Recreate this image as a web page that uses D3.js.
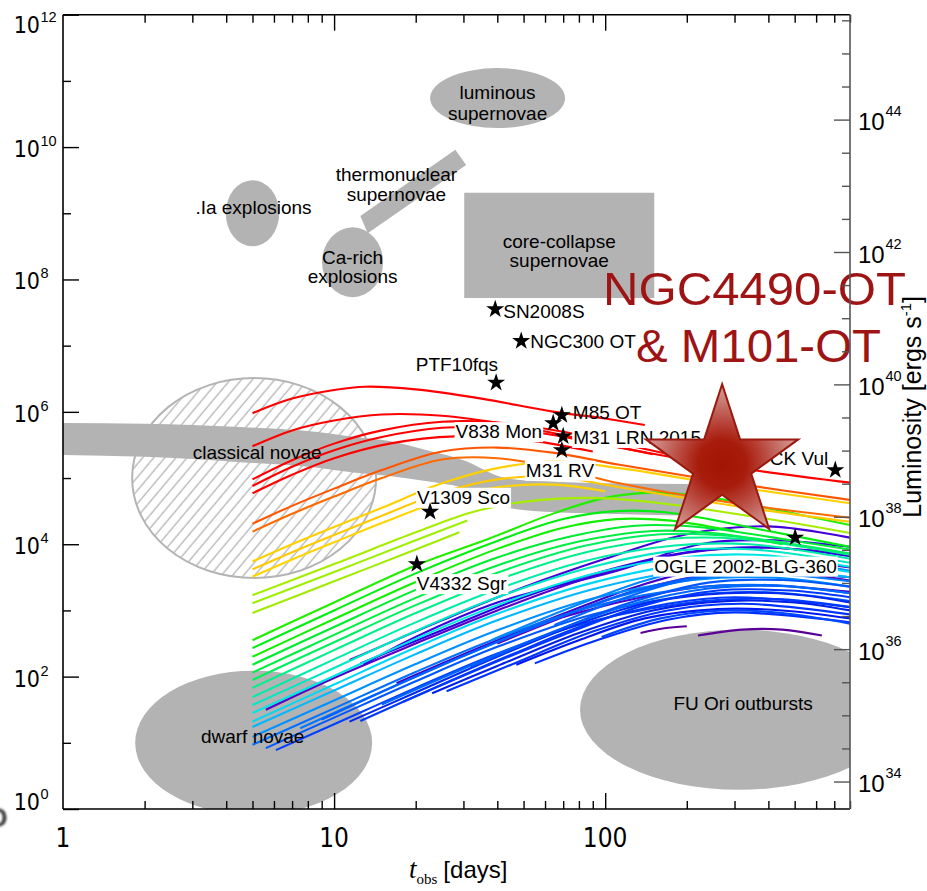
<!DOCTYPE html>
<html>
<head>
<meta charset="utf-8">
<script src="https://cdn.jsdelivr.net/npm/d3@7"></script>
<style>
  html, body { margin: 0; padding: 0; background: #fff; }
  svg { display: block; }
  text { font-family: "Liberation Sans", Arial, Helvetica, sans-serif; fill: #000; }
  .narrow { font-family: "Liberation Sans Narrow", "Arial Narrow", "DejaVu Sans Condensed", sans-serif; }
</style>
</head>
<body>
<svg id="chart" width="927" height="891"></svg>
<script>
// ---------------- data ----------------
// axis ticks
const xMajorTicks = [1, 10, 100];
const xMinorTicks = [2, 3, 4, 5, 6, 7, 8, 9, 20, 30, 40, 50, 60, 70, 80, 90, 200, 300, 400, 500, 600, 700, 800];
const leftMajorExp = [0, 2, 4, 6, 8, 10, 12];
const leftMinorExp = [1, 3, 5, 7, 9, 11];
const rightMajorExp = [34, 36, 38, 40, 42, 44];
const rightMinorExp = [34.5, 35, 35.5, 36.5, 37, 37.5, 38.5, 39, 39.5, 40.5, 41, 41.5, 42.5, 43, 43.5, 44.5, 45, 45.5];
const solarLuminosityErg = 3.846e33;

// elliptical source classes (centre in days / log L_sun, half-axes in dex)
const blobNames = [".Ia explosions", "luminous supernovae", "Ca-rich explosions", "dwarf novae", "FU Ori outbursts"];
const blobDays = [5.0, 40.1, 11.7, 5.05, 312];
const blobLogL = [9.0, 10.74, 8.26, 1.0, 1.5];
const blobHalfWidthDex = [0.0985, 0.249, 0.1125, 0.437, 0.587];
const blobHalfHeightDex = [0.5, 0.453, 0.529, 1.09, 1.21];

// core-collapse supernovae box
const coreCollapseDays = [30.2, 151.7];
const coreCollapseLogL = [7.72, 9.31];

// thermonuclear supernovae strip (corners)
const thermoDays = [12.5, 28.0, 30.7, 13.3];
const thermoLogL = [8.96, 9.96, 9.73, 8.70];

// classical novae: hatched ellipse and decline band
const novaEllipseDays = 5.07, novaEllipseLogL = 5.0, novaEllipseHalfWidthDex = 0.45, novaEllipseHalfHeightDex = 1.51;
const novaBandDays = [1, 2, 4.5, 8, 12, 16, 22, 30, 43, 60, 100, 202];
const novaBandTop = [5.83, 5.82, 5.77, 5.71, 5.62, 5.56, 5.42, 5.27, 5.00, 4.95, 4.92, 4.91];
const novaBandBottom = [5.35, 5.32, 5.24, 5.17, 5.08, 5.03, 4.95, 4.85, 4.56, 4.49, 4.46, 4.43];

// observed transients
const starNames = ["SN2008S", "NGC300 OT", "PTF10fqs", "M85 OT", "V838 Mon", "M31 LRN 2015", "M31 RV", "V1309 Sco", "V4332 Sgr", "OGLE 2002-BLG-360", "CK Vul"];
const starDays = [39.3, 49, 39.6, 69.2, 64.3, 70, 69.2, 22.6, 20.2, 502, 706];
const starLogL = [7.55, 7.07, 6.44, 5.95, 5.83, 5.63, 5.42, 4.49, 3.70, 4.10, 5.12];

// highlighted events
const highlightLines = ["NGC4490-OT", "& M101-OT"];
const highlightDays = 270, highlightLogL = 5.21;

// model tracks: [t_obs in days, log10 L/L_sun]
const redTracks = [
  [[5,5.98],[7,6.2],[10,6.33],[13,6.38],[20,6.34],[35,6.2],[65,6.0],[100,5.9],[140,5.8]],
  [[5,5.48],[7,5.72],[10,5.87],[15,5.96],[25,5.94],[45,5.8],[75,5.62],[113,5.46],[300,5.16],[800,4.93]],
  [[5,4.98],[7,5.27],[10,5.52],[15,5.72],[25,5.85],[40,5.84],[70,5.7],[120,5.5],[200,5.3]],
  [[5,4.88],[7,5.17],[10,5.42],[15,5.62],[25,5.76],[45,5.74],[80,5.58],[150,5.36]],
  [[5,4.77],[7,5.05],[10,5.3],[16,5.52],[28,5.63],[50,5.58],[90,5.4]]
];
const orangeTracks = [
  [[5,4.31],[7,4.58],[10,4.84],[15,5.12],[25,5.4],[40,5.46],[65,5.38],[113,5.2],[300,4.92],[800,4.67]],
  [[5,4.19],[7,4.46],[10,4.72],[15,5.0],[25,5.28],[40,5.3],[65,5.16],[113,4.92],[300,4.62],[800,4.40]]
];
const yellowTracks = [
  [[5,3.74],[7,4.0],[10,4.26],[15,4.55],[25,4.92],[40,5.15],[65,5.25],[113,5.15],[300,4.87],[800,4.62]],
  [[5,3.62],[7,3.88],[10,4.14],[15,4.43],[25,4.78],[40,4.98],[65,5.02],[113,4.86],[300,4.58],[800,4.34]],
  [[5,3.51],[7,3.77],[10,4.03],[15,4.32],[25,4.66],[40,4.86],[65,4.9],[100,4.8]]
];
const limeTracks = [
  [[5,3.23],[10,3.7],[20,4.18],[32,4.48],[50,4.64],[90,4.7],[160,4.62],[400,4.38],[800,4.17]],
  [[5,3.11],[10,3.58],[20,4.06],[31,4.36]],
  [[5,2.96],[10,3.44],[20,3.92],[29,4.18]]
];
const greenTracks = [
  [[5,2.55],[10,3.12],[20,3.68],[37,4.08],[65,4.47],[100,4.7],[150,4.78],[250,4.7],[450,4.5],[800,4.29]],
  [[5,2.43],[10,3.0],[20,3.56],[40,4.05],[70,4.38],[110,4.5],[170,4.48],[400,4.2],[800,3.96]],
  [[5,2.30],[10,2.87],[20,3.43],[40,3.93],[70,4.25],[110,4.38],[170,4.36],[300,4.2]],
  [[5,2.18],[10,2.75],[20,3.31],[40,3.8],[75,4.12],[130,4.28],[220,4.26],[500,4.05],[800,3.92]],
  [[5,2.06],[10,2.63],[20,3.19],[40,3.68],[80,4.04],[150,4.2],[260,4.16],[450,4.0]],
  [[5,1.95],[10,2.52],[20,3.08],[40,3.57],[85,3.98],[160,4.15],[300,4.12],[800,3.86]]
];
const tealTracks = [
  [[5,1.83],[10,2.4],[20,2.96],[40,3.46],[85,3.88],[170,4.08],[320,4.08],[800,3.84]],
  [[5,1.69],[10,2.26],[20,2.82],[40,3.32],[85,3.75],[180,3.98],[340,4.0],[800,3.78]],
  [[5,1.57],[10,2.13],[20,2.69],[40,3.2],[90,3.66],[180,3.9],[350,3.92],[800,3.72]],
  [[5,1.45],[10,2.01],[20,2.57],[40,3.08],[90,3.55],[190,3.8],[360,3.84],[800,3.66]],
  [[5,1.32],[10,1.88],[20,2.44],[40,2.95],[90,3.42],[200,3.7],[380,3.74],[800,3.58]],
  [[5,1.24],[10,1.79],[20,2.34],[40,2.85],[90,3.32],[200,3.6],[380,3.64],[800,3.5]]
];
const blueTracks = [
  [[5,1.09],[10,1.64],[20,2.19],[40,2.7],[90,3.18],[210,3.46],[400,3.5],[800,3.36]],
  [[5,0.97],[10,1.52],[20,2.07],[40,2.58],[90,3.06],[220,3.35],[420,3.38],[800,3.26]],
  [[5.6,0.92],[10,1.38],[20,1.93],[40,2.45],[90,2.94],[220,3.24],[420,3.27],[800,3.14]],
  [[6.1,0.89],[10,1.28],[20,1.83],[40,2.35],[90,2.84],[230,3.14],[430,3.17],[800,3.05]],
  [[7.5,1.22],[14,1.72],[28,2.26],[55,2.75],[110,3.2],[240,3.5],[450,3.54],[800,3.44]],
  [[9,1.35],[16,1.82],[32,2.36],[64,2.86],[130,3.3],[260,3.55],[480,3.57],[800,3.5]],
  [[11.4,1.32],[20,1.76],[40,2.3],[80,2.8],[150,3.13],[280,3.26],[500,3.24],[800,3.12]],
  [[12.5,1.33],[22,1.78],[45,2.33],[90,2.82],[170,3.1],[300,3.2],[800,3.05]],
  [[15,1.58],[30,2.12],[60,2.63],[120,3.07],[240,3.33],[440,3.37],[800,3.26]],
  [[23,1.75],[40,2.16],[80,2.66],[150,3.0],[280,3.14],[500,3.12],[800,3.0]],
  [[26,1.78],[45,2.18],[90,2.68],[170,3.0],[320,3.1],[800,2.94]],
  [[47,2.18],[80,2.55],[140,2.88],[260,3.02],[450,3.0],[800,2.88]],
  [[55,2.2],[95,2.56],[170,2.86],[300,2.97],[800,2.82]],
  [[97,2.6],[160,2.88],[270,3.0],[450,2.96],[800,2.8]],
  [[32,2.15],[60,2.62],[120,3.1],[240,3.42],[450,3.46],[800,3.36]],
  [[18,1.62],[35,2.13],[70,2.63],[140,3.08],[260,3.3],[480,3.3],[800,3.2]],
  [[38,2.55],[70,3.0],[140,3.45],[260,3.7],[480,3.72],[800,3.6]],
  [[65,2.78],[120,3.2],[220,3.5],[400,3.58],[800,3.5]]
];
const violetTracks = [
  [[11.4,2.25],[25,2.85],[50,3.35],[100,3.78],[200,4.15],[400,4.27],[800,4.1]],
  [[5.6,1.5],[10,1.98],[20,2.5],[40,3.0],[80,3.45],[170,3.82],[350,3.95],[800,3.85]],
  [[12.8,2.18],[20,2.6],[40,3.12],[113,3.61],[224,4.0],[420,4.06],[800,3.96]],
  [[40,2.5],[70,2.9],[130,3.3],[250,3.55],[450,3.58],[800,3.45]],
  [[70,2.9],[120,3.15],[220,3.35],[400,3.38],[800,3.28]],
  [[135,2.66],[165,2.73],[200,2.76]],
  [[220,2.62],[320,2.71],[450,2.71],[630,2.62]],
  [[17,1.9],[35,2.45],[70,2.95],[140,3.4],[280,3.7],[550,3.72],[800,3.65]],
  [[12.5,2.2],[25,2.7],[50,3.2],[100,3.6],[200,3.88],[400,3.95],[800,3.82]]
];

// line colours for each family
const redShades = ["#ff0000"];
const orangeShades = ["#ff5500", "#ff6a00"];
const yellowShades = ["#ffd000", "#ffc800", "#ffd400"];
const limeShades = ["#a6ee00", "#9cf000", "#a0ec00"];
const greenShades = ["#22ee00", "#00ee10", "#10f000", "#00ec30", "#00ee40", "#00f060"];
const tealShades = ["#00f08a", "#00eca8", "#00e8c4", "#00e6e6", "#00d8f4", "#00b8ff"];
const blueShades = ["#0090ff", "#0070ff", "#0058ff", "#0040ff", "#0078ff", "#0060ff", "#0028f0", "#0038ff", "#0068ff", "#0020e8", "#0034ff", "#0018f0", "#0030ff", "#0048ff", "#0058ff", "#0038ff", "#0088ff", "#0064ff"];
const violetShades = ["#4400d8", "#5500c4", "#3a00e0", "#5c00b0", "#4c00c8", "#5a0098", "#5a0098", "#4000c8", "#3000e0"];

// ---------------- chart ----------------
const plotLeft = 63, plotRight = 850, plotTop = 14.7, plotBottom = 809;

const x = d3.scaleLog().domain([1, 800]).range([plotLeft, plotRight]);
const y = d3.scaleLog().domain([1, 1e12]).range([plotBottom, plotTop]);
const yErg = d3.scaleLog().domain([solarLuminosityErg, 1e12 * solarLuminosityErg]).range([plotBottom, plotTop]);
const L = v => Math.pow(10, v);

const svg = d3.select("#chart");
const defs = svg.append("defs");

defs.append("clipPath").attr("id", "plotClip")
  .append("rect").attr("x", plotLeft).attr("y", plotTop).attr("width", plotRight - plotLeft).attr("height", plotBottom - plotTop);

const hatch = defs.append("pattern").attr("id", "hatch")
  .attr("patternUnits", "userSpaceOnUse").attr("width", 8.5).attr("height", 8.5)
  .attr("patternTransform", "rotate(40)");
hatch.append("line").attr("x1", 4).attr("y1", -1).attr("x2", 4).attr("y2", 10)
  .attr("stroke", "#b4b4b4").attr("stroke-width", 1.3);

const starCx = x(highlightDays), starCy = y(L(highlightLogL)), starR = 80;
// gradient lives in the star's own (translated) coordinate system
const grad = defs.append("radialGradient").attr("id", "starFill")
  .attr("gradientUnits", "userSpaceOnUse")
  .attr("cx", 0).attr("cy", 0).attr("r", starR);
grad.append("stop").attr("offset", "0").attr("stop-color", "#a21404");
grad.append("stop").attr("offset", "0.3").attr("stop-color", "#a81c0c");
grad.append("stop").attr("offset", "0.52").attr("stop-color", "#b7443a");
grad.append("stop").attr("offset", "0.78").attr("stop-color", "#c87a72");
grad.append("stop").attr("offset", "1").attr("stop-color", "#d9a29c");

defs.append("filter").attr("id", "soft").append("feGaussianBlur").attr("stdDeviation", 1.3);

const plot = svg.append("g").attr("clip-path", "url(#plotClip)");
const grey = "#b3b3b3";

// ellipse in log-log space
function logEllipse(tc, lc, hw, hh) {
  const cx = x(tc), cy = y(L(lc));
  return { cx, cy, rx: x(tc * L(hw)) - cx, ry: cy - y(L(lc + hh)) };
}

// hatched classical-novae ellipse
const ne = logEllipse(novaEllipseDays, novaEllipseLogL, novaEllipseHalfWidthDex, novaEllipseHalfHeightDex);
plot.append("ellipse").attr("cx", ne.cx).attr("cy", ne.cy).attr("rx", ne.rx).attr("ry", ne.ry)
  .attr("fill", "url(#hatch)").attr("stroke", "#b4b4b4").attr("stroke-width", 2);

// classical novae decline band
const band = novaBandDays.map((d, i) => [d, novaBandTop[i], novaBandBottom[i]]);
plot.append("path").datum(band)
  .attr("d", d3.area().x(d => x(d[0])).y0(d => y(L(d[2]))).y1(d => y(L(d[1]))).curve(d3.curveMonotoneX))
  .attr("fill", grey);

// grey ellipses
const blobs = blobNames.map((n, i) => Object.assign({ name: n }, logEllipse(blobDays[i], blobLogL[i], blobHalfWidthDex[i], blobHalfHeightDex[i])));
plot.selectAll("ellipse.blob").data(blobs).join("ellipse").attr("class", "blob")
  .attr("cx", d => d.cx).attr("cy", d => d.cy).attr("rx", d => d.rx).attr("ry", d => d.ry)
  .attr("fill", grey);

// core-collapse box
plot.append("rect")
  .attr("x", x(coreCollapseDays[0])).attr("y", y(L(coreCollapseLogL[1])))
  .attr("width", x(coreCollapseDays[1]) - x(coreCollapseDays[0]))
  .attr("height", y(L(coreCollapseLogL[0])) - y(L(coreCollapseLogL[1])))
  .attr("fill", grey);

// thermonuclear strip
const thermoPts = thermoDays.map((d, i) => [x(d), y(L(thermoLogL[i]))]);
plot.append("path").attr("d", "M" + thermoPts.map(p => p.join(",")).join("L") + "Z").attr("fill", grey);

// model tracks
const line = d3.line().x(d => x(d[0])).y(d => y(L(d[1]))).curve(d3.curveCatmullRom.alpha(0.5));
const families = [
  [violetTracks, violetShades], [blueTracks, blueShades], [tealTracks, tealShades],
  [greenTracks, greenShades], [limeTracks, limeShades], [yellowTracks, yellowShades],
  [orangeTracks, orangeShades], [redTracks, redShades]
];
const trackLayer = plot.append("g").attr("fill", "none").attr("stroke-width", 2.1);
families.forEach(([tracks, shades]) => {
  trackLayer.append("g").selectAll("path").data(tracks).join("path")
    .attr("d", line)
    .attr("stroke", (d, i) => shades[i % shades.length]);
});

// region labels
const regionText = svg.append("g").attr("font-size", 19).attr("text-anchor", "middle");
function label(tx, ty, str) { regionText.append("text").attr("x", tx).attr("y", ty).text(str); }
const bIa = blobs[0], bLum = blobs[1], bCa = blobs[2], bDw = blobs[3], bFu = blobs[4];
label(bIa.cx + 1, bIa.cy + 0.5, ".Ia explosions");
label(bLum.cx, bLum.cy + 0.5, "luminous");
label(bLum.cx, bLum.cy + 21.5, "supernovae");
const thc = [d3.mean(thermoPts, p => p[0]), d3.mean(thermoPts, p => p[1])];
label(thc[0] - 16, thc[1] - 10, "thermonuclear");
label(thc[0] - 16, thc[1] + 10, "supernovae");
label(bCa.cx, bCa.cy + 2, "Ca-rich");
label(bCa.cx, bCa.cy + 21, "explosions");
const ccx = (x(coreCollapseDays[0]) + x(coreCollapseDays[1])) / 2;
const ccy = (y(L(coreCollapseLogL[0])) + y(L(coreCollapseLogL[1]))) / 2;
label(ccx, ccy + 2.5, "core-collapse");
label(ccx, ccy + 21.5, "supernovae");
label(ne.cx + 3, y(L((novaBandTop[3] + novaBandBottom[3]) / 2)) + 10, "classical novae");
label(bDw.cx - 1, bDw.cy, "dwarf novae");
label(bFu.cx + 4, bFu.cy, "FU Ori outbursts");

// observed transients
const placement = {
  "SN2008S": [8, 9, "start", false],
  "NGC300 OT": [9, 7, "start", false],
  "PTF10fqs": [2, -11.5, "end", false],
  "M85 OT": [11, 3.5, "start", false],
  "V838 Mon": [-11, 15, "end", true],
  "M31 LRN 2015": [10, 7.6, "start", true],
  "M31 RV": [-36, 26.5, "start", true],
  "V1309 Sco": [-13, -8, "start", true],
  "V4332 Sgr": [0, 26, "start", true],
  "OGLE 2002-BLG-360": [-141, 35, "start", true],
  "CK Vul": [-7, -5, "end", true]
};
const stars = starNames.map((n, i) => ({ name: n, px: x(starDays[i]), py: y(L(starLogL[i])) }));
const starLabels = svg.append("g").attr("font-size", 19);
stars.forEach(s => {
  const [dx, dy, anchor, boxed] = placement[s.name];
  const g = starLabels.append("g");
  const t = g.append("text").attr("x", s.px + dx).attr("y", s.py + dy).attr("text-anchor", anchor).text(s.name);
  if (boxed) {
    const b = t.node().getBBox();
    g.insert("rect", "text").attr("x", b.x - 1).attr("y", b.y + 1).attr("width", b.width + 2).attr("height", b.height - 1).attr("fill", "#fff");
  }
});
svg.append("g").selectAll("path").data(stars).join("path")
  .attr("transform", d => `translate(${d.px},${d.py})`)
  .attr("d", d3.symbol(d3.symbolStar, 9.5 * 9.5 / 0.8908130915292852))
  .attr("fill", "#000");

// highlighted events
svg.append("path")
  .attr("transform", `translate(${starCx},${starCy})`)
  .attr("d", d3.symbol(d3.symbolStar, starR * starR / 0.8908130915292852))
  .attr("fill", "url(#starFill)").attr("stroke", "#9a1a10").attr("stroke-width", 2).attr("stroke-linejoin", "miter");

const hl = svg.append("g").attr("font-family", "Lato, 'Open Sans', 'Liberation Sans', sans-serif")
  .attr("font-weight", 300).attr("font-size", 47);
hl.append("text").attr("x", 603).attr("y", 305).attr("textLength", 303).attr("lengthAdjust", "spacingAndGlyphs")
  .style("fill", "#9e1414").text(highlightLines[0]);
hl.append("text").attr("x", 636).attr("y", 361.5).attr("textLength", 245).attr("lengthAdjust", "spacingAndGlyphs")
  .style("fill", "#9e1414").text(highlightLines[1]);

// ---------------- axes ----------------
const axes = svg.append("g");
function tickAxis(axisFn, scale, values, size, tr, colour) {
  const g = axes.append("g").attr("transform", tr)
    .call(axisFn(scale).tickValues(values).tickSizeInner(-size).tickSizeOuter(0).tickFormat(""));
  g.select(".domain").remove();
  g.selectAll("line").attr("stroke", colour).attr("stroke-width", 1.4);
}
tickAxis(d3.axisBottom, x, xMinorTicks, 8, `translate(0,${plotBottom})`, "#000");
tickAxis(d3.axisBottom, x, xMajorTicks.slice(1), 16, `translate(0,${plotBottom})`, "#000");
tickAxis(d3.axisTop, x, xMinorTicks, 8, `translate(0,${plotTop})`, "#000");
tickAxis(d3.axisTop, x, xMajorTicks.slice(1), 16, `translate(0,${plotTop})`, "#000");
tickAxis(d3.axisLeft, y, leftMajorExp.map(L), 16, `translate(${plotLeft},0)`, "#000");
tickAxis(d3.axisLeft, y, leftMinorExp.map(L), 8, `translate(${plotLeft},0)`, "#000");
tickAxis(d3.axisRight, yErg, rightMajorExp.map(L), 16, `translate(${plotRight},0)`, "#555");
tickAxis(d3.axisRight, yErg, rightMinorExp.map(L), 8, `translate(${plotRight},0)`, "#555");

// frame
const frame = (x1, y1, x2, y2, c) => axes.append("line").attr("x1", x1).attr("y1", y1).attr("x2", x2).attr("y2", y2).attr("stroke", c).attr("stroke-width", 1.6);
frame(plotLeft, plotTop, plotRight, plotTop, "#000");
frame(plotLeft, plotBottom, plotRight, plotBottom, "#000");
frame(plotLeft, plotTop, plotLeft, plotBottom, "#000");
frame(plotRight, plotTop, plotRight, plotBottom, "#555");

// left tick labels
const tickLab = svg.append("g");
leftMajorExp.forEach(e => {
  const ty = y(L(e)) + (e === 12 ? 18 : e === 0 ? 1 : 10);
  tickLab.append("text").attr("class", "narrow").attr("x", 40).attr("y", ty).attr("text-anchor", "end").attr("font-size", 23).text("10");
  tickLab.append("text").attr("x", 40.5).attr("y", ty - 11).attr("font-size", 14.5).text(e);
});
// right tick labels
rightMajorExp.forEach(e => {
  const ty = yErg(L(e)) + 10.7;
  tickLab.append("text").attr("x", 858).attr("y", ty).attr("font-size", 24).text("10");
  tickLab.append("text").attr("x", 885.5).attr("y", ty - 14).attr("font-size", 14.5).text(e);
});
// bottom tick labels
svg.append("g").selectAll("text").data(xMajorTicks).join("text")
  .attr("class", "narrow").attr("x", d => x(d)).attr("y", 847).attr("text-anchor", "middle").attr("font-size", 26)
  .text(d => d);

// axis titles
const xt = svg.append("text").attr("x", 409).attr("y", 878).attr("font-size", 24);
xt.append("tspan").attr("font-family", "'Liberation Serif', 'Times New Roman', serif").attr("font-style", "italic").attr("font-size", 27).text("t");
xt.append("tspan").attr("font-family", "'Liberation Serif', 'Times New Roman', serif").attr("font-size", 15).attr("dy", 6).text("obs");
xt.append("tspan").attr("dy", -6).attr("dx", 6).text("[days]");

const yt = svg.append("text").attr("transform", `translate(921,${(plotTop + plotBottom) / 2 - 5}) rotate(-90)`)
  .attr("text-anchor", "middle").attr("font-size", 25);
yt.append("tspan").text("Luminosity [ergs s");
yt.append("tspan").attr("font-size", 15).attr("dy", -10).text("-1");
yt.append("tspan").attr("dy", 10).text("]");

// clipped left-axis title remnant at the page edge
svg.append("text").attr("x", -14).attr("y", 827).attr("font-size", 28).attr("font-weight", "bold")
  .attr("filter", "url(#soft)").style("fill", "#444").text("O");
</script>
</body>
</html>
